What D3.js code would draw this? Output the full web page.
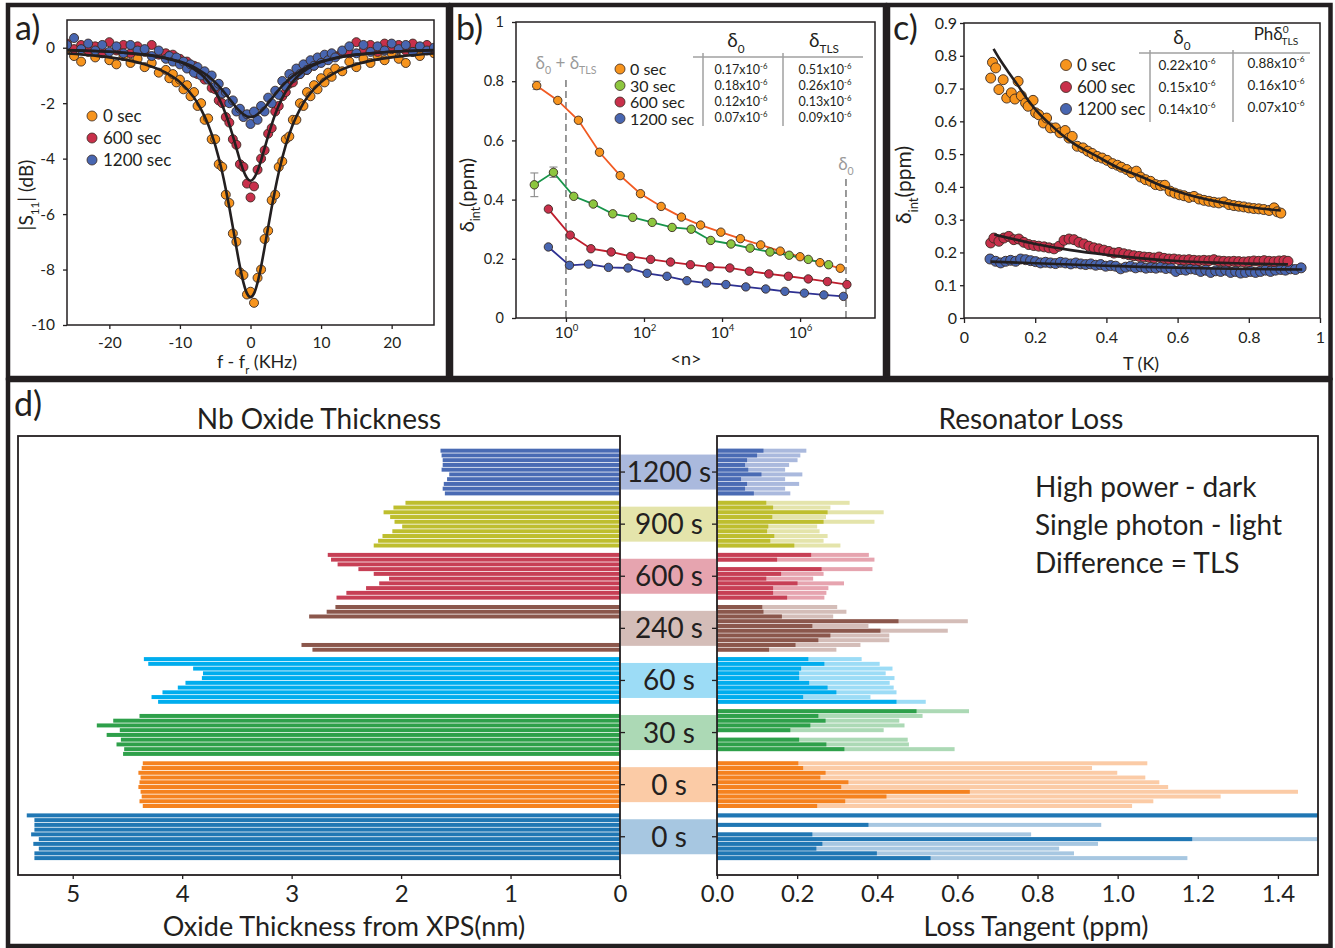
<!DOCTYPE html>
<html><head><meta charset="utf-8">
<script src="https://cdn.jsdelivr.net/npm/d3@7"></script>
<style>
body{margin:0;background:#fff}
text{font-family:Lato,"Open Sans",sans-serif}
</style></head>
<body><svg id="c" width="1335" height="948"></svg>
<script>
// ---------------- Panel a data ----------------
const A_FREQ = [-26,-25,-24,-23,-22,-21,-20,-19,-18,-17,-16,-15,-14,-13,-12,-11.5,-11,-10.5,-10,-9.5,-9,-8.5,-8,-7.5,-7,-6.5,-6,-5.5,-5,-4.5,-4,-3.5,-3,-2.5,-2,-1.5,-1,-0.5,0,0.5,1,1.5,2,2.5,3,3.5,4,4.5,5,5.5,6,6.5,7,7.5,8,8.5,9,9.5,10,10.5,11,11.5,12,13,14,15,16,17,18,19,20,21,22,23,24,25,26];
const A_S11_0 = [-0.05,-0.3,-0.5,-0.15,-0.35,-0.2,-0.45,-0.6,-0.3,-0.55,-0.4,-0.7,-0.55,-0.9,
 -0.8,-1.1,-0.95,-1.25,-1.15,-1.5,-1.35,-1.75,-1.6,-2.1,-2.0,-2.6,-2.55,-3.3,-3.3,-4.2,-4.3,-5.3,-5.6,-6.7,-7.0,-8.1,-8.2,-8.9,
 -8.8,
 -9.2,-8.3,-8.0,-6.9,-6.6,-5.5,-5.3,-4.3,-4.1,-3.3,-3.2,-2.6,-2.6,-2.0,-2.1,-1.6,-1.75,-1.35,-1.5,-1.1,-1.25,-0.9,-1.05,-0.75,
 -0.85,-0.5,-0.7,-0.4,-0.55,-0.3,-0.45,-0.2,-0.4,-0.55,-0.15,-0.3,-0.05,-0.2];
const A_S11_600 = [0.15,-0.05,0.1,-0.1,0.05,-0.15,0.2,-0.1,0.1,-0.2,0.05,-0.15,0.1,-0.25,
 -0.2,-0.3,-0.25,-0.45,-0.4,-0.55,-0.5,-0.75,-0.65,-0.95,-0.9,-1.15,-1.1,-1.45,-1.5,-1.9,-2.0,-2.5,-2.7,-3.3,-3.5,-4.2,-4.3,-4.9,
 -5.4,
 -5.0,-4.4,-4.0,-3.7,-3.1,-2.9,-2.3,-2.1,-1.75,-1.6,-1.3,-1.25,-1.0,-0.95,-0.8,-0.8,-0.6,-0.65,-0.5,-0.45,-0.35,-0.4,-0.25,-0.3,
 -0.15,-0.2,0.2,-0.1,0.1,-0.15,0.15,-0.05,0.1,-0.1,0.15,0.0,0.1,-0.05];
const A_S11_1200 = [0.1,0.35,-0.05,0.15,-0.1,0.1,-0.15,0.05,-0.2,0.1,-0.1,-0.05,-0.3,-0.1,
 -0.4,-0.3,-0.5,-0.35,-0.6,-0.5,-0.75,-0.6,-0.9,-0.7,-1.0,-0.85,-1.15,-1.0,-1.4,-1.3,-1.65,-1.6,-2.0,-1.9,-2.3,-2.2,-2.5,-2.4,
 -2.75,
 -2.3,-2.6,-2.1,-2.3,-1.8,-2.0,-1.55,-1.7,-1.2,-1.4,-0.95,-1.1,-0.75,-0.95,-0.6,-0.8,-0.45,-0.65,-0.35,-0.55,-0.25,-0.45,-0.2,-0.35,
 -0.1,0.05,-0.2,0.1,-0.15,0.05,-0.1,0.15,-0.05,0.1,-0.15,0.05,-0.1,0.0];
const A_FIT_FREQ = [-26,-22,-18,-15,-12,-10,-8,-7,-6,-5,-4,-3.5,-3,-2.5,-2,-1.5,-1,-0.5,0,0.5,1,1.5,2,2.5,3,3.5,4,5,6,7,8,10,12,15,18,22,26];
const A_FIT_0 = [-0.21,-0.29,-0.42,-0.60,-0.90,-1.24,-1.80,-2.22,-2.77,-3.51,-4.50,-5.10,-5.76,-6.47,-7.20,-7.89,-8.47,-8.86,-9.00,-8.86,-8.47,-7.89,-7.20,-6.47,-5.76,-5.10,-4.50,-3.51,-2.77,-2.22,-1.80,-1.24,-0.90,-0.60,-0.42,-0.29,-0.21];
const A_FIT_600 = [-0.085,-0.12,-0.18,-0.25,-0.38,-0.52,-0.77,-0.96,-1.22,-1.58,-2.08,-2.40,-2.77,-3.18,-3.62,-4.06,-4.44,-4.70,-4.80,-4.70,-4.44,-4.06,-3.62,-3.18,-2.77,-2.40,-2.08,-1.58,-1.22,-0.96,-0.77,-0.52,-0.38,-0.25,-0.18,-0.12,-0.085];
const A_FIT_1200 = [-0.09,-0.12,-0.18,-0.25,-0.37,-0.50,-0.70,-0.85,-1.02,-1.25,-1.52,-1.68,-1.84,-2.00,-2.16,-2.29,-2.40,-2.48,-2.50,-2.48,-2.40,-2.29,-2.16,-2.00,-1.84,-1.68,-1.52,-1.25,-1.02,-0.85,-0.70,-0.50,-0.37,-0.25,-0.18,-0.12,-0.09];
const A_YTICKS = [0,-2,-4,-6,-8,-10];
const A_XTICKS = [-20,-10,0,10,20];
const A_LEGEND = ["0 sec","600 sec","1200 sec"];

// ---------------- Panel b data ----------------
const B_LOGN_0 = [-0.75,-0.21,0.32,0.86,1.39,1.91,2.44,2.96,3.45,3.97,4.47,4.99,5.49,6.0,6.51,7.03];
const B_VAL_0 = [0.785,0.735,0.668,0.56,0.481,0.42,0.377,0.341,0.314,0.29,0.268,0.247,0.226,0.207,0.187,0.168];
const B_LOGN_30 = [-0.81,-0.32,0.2,0.7,1.2,1.71,2.21,2.72,3.21,3.71,4.23,4.72,5.23,5.72,6.21,6.73];
const B_VAL_30 = [0.45,0.492,0.411,0.385,0.352,0.34,0.323,0.306,0.30,0.262,0.25,0.236,0.223,0.212,0.198,0.18];
const B_LOGN_600 = [-0.45,0.11,0.64,1.16,1.66,2.17,2.68,3.19,3.69,4.2,4.7,5.2,5.7,6.21,6.7,7.2];
const B_VAL_600 = [0.368,0.28,0.234,0.223,0.208,0.198,0.189,0.18,0.173,0.169,0.158,0.149,0.141,0.132,0.123,0.113];
const B_LOGN_1200 = [-0.45,0.09,0.58,1.09,1.59,2.08,2.59,3.1,3.6,4.1,4.61,5.12,5.61,6.11,6.61,7.11];
const B_VAL_1200 = [0.24,0.178,0.182,0.171,0.169,0.151,0.141,0.126,0.118,0.113,0.105,0.098,0.09,0.084,0.078,0.073];
const B_ERR = [{series:1,i:0,lo:0.41,hi:0.49},{series:1,i:1,lo:0.475,hi:0.51},{series:0,i:0,lo:0.772,hi:0.8}];
const B_YTICKS = [0,0.2,0.4,0.6,0.8,1];
const B_XTICKS = [1,100,1e4,1e6];
const B_LEGEND = ["0 sec","30 sec","600 sec","1200 sec"];
const B_TAB_D0 = ["0.17","0.18","0.12","0.07"];
const B_TAB_DTLS = ["0.51","0.26","0.13","0.09"];
const B_MARK_N = [1, 1.5e7];

// ---------------- Panel c data ----------------
const C_T_0 = [0.075,0.080,0.089,0.098,0.11,0.12,0.133,0.143,0.152,0.161,0.173,0.18,0.194,0.201,0.21,0.223,0.232,0.243,0.257,0.27,0.284,0.295,0.304,0.318,0.334,0.348,0.36,0.374,0.388,0.402,0.417,0.431,0.442,0.457,0.471,0.484,0.496,0.51,0.524,0.538,0.552,0.564,0.579,0.592,0.605,0.618,0.632,0.646,0.66,0.674,0.688,0.702,0.716,0.73,0.744,0.758,0.772,0.786,0.8,0.814,0.828,0.842,0.857,0.871,0.88,0.89];
const C_V_0 = [0.732,0.78,0.763,0.697,0.727,0.671,0.687,0.668,0.722,0.678,0.656,0.646,0.664,0.626,0.62,0.595,0.61,0.58,0.58,0.565,0.572,0.549,0.554,0.524,0.519,0.509,0.502,0.493,0.488,0.481,0.471,0.466,0.46,0.453,0.443,0.448,0.43,0.422,0.417,0.407,0.404,0.405,0.387,0.381,0.376,0.373,0.368,0.371,0.363,0.359,0.356,0.353,0.351,0.354,0.346,0.343,0.341,0.339,0.336,0.334,0.333,0.331,0.328,0.336,0.324,0.32];
const C_T_600 = [0.075,0.084,0.098,0.112,0.126,0.14,0.154,0.168,0.182,0.196,0.21,0.225,0.239,0.253,0.267,0.281,0.295,0.309,0.323,0.337,0.351,0.365,0.379,0.393,0.407,0.421,0.435,0.449,0.463,0.477,0.492,0.506,0.52,0.534,0.548,0.562,0.576,0.59,0.604,0.618,0.632,0.646,0.66,0.674,0.688,0.702,0.716,0.73,0.744,0.758,0.772,0.786,0.8,0.814,0.828,0.843,0.857,0.871,0.885,0.899,0.91];
const C_V_600 = [0.229,0.244,0.234,0.244,0.249,0.239,0.241,0.231,0.224,0.221,0.219,0.217,0.214,0.211,0.219,0.237,0.241,0.239,0.231,0.226,0.219,0.214,0.211,0.207,0.203,0.198,0.2,0.196,0.193,0.19,0.188,0.186,0.185,0.183,0.186,0.182,0.18,0.18,0.178,0.177,0.178,0.176,0.175,0.176,0.175,0.178,0.174,0.173,0.172,0.173,0.172,0.171,0.172,0.174,0.173,0.175,0.173,0.172,0.174,0.175,0.173];
const C_T_1200 = [0.073,0.089,0.103,0.117,0.131,0.145,0.159,0.173,0.187,0.201,0.215,0.229,0.243,0.257,0.271,0.285,0.3,0.314,0.328,0.342,0.356,0.37,0.384,0.398,0.412,0.426,0.44,0.454,0.468,0.482,0.497,0.511,0.525,0.539,0.553,0.567,0.581,0.595,0.609,0.623,0.637,0.651,0.665,0.679,0.693,0.707,0.721,0.735,0.749,0.763,0.777,0.791,0.805,0.819,0.833,0.847,0.861,0.875,0.89,0.903,0.917,0.931,0.947];
const C_V_1200 = [0.18,0.173,0.168,0.173,0.176,0.173,0.18,0.178,0.175,0.172,0.168,0.17,0.168,0.166,0.17,0.168,0.165,0.168,0.165,0.163,0.165,0.161,0.163,0.158,0.16,0.158,0.15,0.155,0.158,0.153,0.156,0.152,0.154,0.152,0.155,0.151,0.152,0.142,0.148,0.146,0.15,0.148,0.142,0.146,0.139,0.144,0.142,0.146,0.139,0.142,0.137,0.139,0.142,0.139,0.142,0.146,0.142,0.146,0.148,0.146,0.15,0.148,0.153];
const C_FIT_T_0 = [0.083,0.1,0.125,0.15,0.175,0.201,0.243,0.299,0.374,0.43,0.5,0.552,0.618,0.712,0.805,0.89];
const C_FIT_V_0 = [0.821,0.79,0.75,0.712,0.672,0.636,0.59,0.539,0.493,0.46,0.43,0.405,0.38,0.355,0.338,0.328];
const C_FIT_T_600 = [0.085,0.2,0.3,0.4,0.5,0.6,0.7,0.8,0.91];
const C_FIT_V_600 = [0.255,0.226,0.207,0.193,0.182,0.174,0.169,0.166,0.164];
const C_FIT_T_1200 = [0.075,0.3,0.5,0.7,0.95];
const C_FIT_V_1200 = [0.172,0.163,0.156,0.151,0.148];
const C_YTICKS = [0,0.1,0.2,0.3,0.4,0.5,0.6,0.7,0.8,0.9];
const C_XTICKS = [0,0.2,0.4,0.6,0.8,1];
const C_LEGEND = ["0 sec","600 sec","1200 sec"];
const C_TAB_D0 = ["0.22","0.15","0.14"];
const C_TAB_PH = ["0.88","0.16","0.07"];

// ---------------- Panel d data ----------------
const D_IDS = ["g1200","g900","g600","g240","g60","g30","g0a","g0b"];
const D_LABELS = ["1200 s","900 s","600 s","240 s","60 s","30 s","0 s","0 s"];
const D_DARK = ["#4a6bb4","#bebe2e","#c73f55","#8b574c","#00adee","#2ea04a","#f5821f","#2077b4"];
const D_LIGHT = ["#aab9dd","#e4e4ab","#e6a4af","#d4bdb8","#9cdcf6","#acd9b5","#fbcba6","#a7c7e1"];
const D_THICK = [
 [1.64,1.63,1.62,1.62,1.63,1.56,1.58,1.61,1.62,1.60],
 [1.96,2.07,2.16,2.10,2.06,1.99,2.08,2.17,2.21,2.25],
 [2.67,2.64,2.58,2.39,2.25,2.11,2.20,2.32,2.50,2.59],
 [2.60,2.68,2.84,null,null,null,null,null,2.91,2.81],
 [4.35,4.31,3.90,3.81,3.82,3.97,4.04,4.18,4.28,4.22],
 [null,4.39,4.63,4.78,4.57,4.69,4.56,4.60,4.53,4.54],
 [4.36,4.37,4.40,4.38,4.39,4.40,4.38,4.37,4.39,4.36],
 [5.42,5.35,5.35,5.35,5.38,5.31,5.36,5.31,5.35,5.35]];
const D_LOSS_HIGH = [
 [0.116,0.100,0.075,0.070,0.078,0.111,0.060,0.075,0.070,0.092],
 [0.123,0.140,0.276,0.138,0.266,0.128,0.125,0.143,0.133,0.193],
 [0.235,0.150,null,0.261,0.160,0.123,0.201,0.140,0.140,0.175],
 [0.113,0.116,0.162,0.453,0.238,0.408,0.283,0.253,0.196,0.130],
 [0.228,0.268,0.210,0.205,0.205,0.230,0.276,0.298,0.215,0.448],
 [0.498,0.253,0.271,0.233,0.183,null,0.205,0.273,0.318,null],
 [0.203,0.215,0.271,0.258,0.328,0.310,0.631,0.423,0.320,0.250],
 [1.60,null,0.378,null,0.238,1.186,0.263,0.248,0.399,0.533]];
const D_LOSS_SINGLE = [
 [0.223,0.208,0.201,0.180,0.170,0.213,0.170,0.205,0.170,0.183],
 [0.331,0.283,0.416,0.272,0.393,0.250,0.256,0.276,0.266,0.308],
 [0.379,0.393,null,0.388,0.266,0.240,0.317,0.278,0.273,0.268],
 [0.300,0.323,0.290,0.626,0.378,0.576,0.430,0.430,0.358,0.298],
 [0.361,0.406,0.438,0.421,0.443,0.431,0.441,0.448,0.383,0.521],
 [0.629,0.513,0.455,0.468,0.416,null,0.476,0.479,0.593,null],
 [1.074,0.936,0.999,1.069,1.104,1.126,1.450,1.257,1.089,1.036],
 [1.60,null,0.959,null,0.784,1.60,0.951,0.854,0.891,1.174]];
const D_XTICKS_L = [5,4,3,2,1,0];
const D_XTICKS_R = [0,0.2,0.4,0.6,0.8,1.0,1.2,1.4];
const D_LEGEND = ["High power - dark","Single photon - light","Difference = TLS"];

// ---------------- helpers ----------------
const INK = "#231f20";
const svg = d3.select("#c");
const defs = svg.append("defs");
function clip(id,x,y,w,h){defs.append("clipPath").attr("id",id).append("rect").attr("x",x).attr("y",y).attr("width",w).attr("height",h);}
function frame(x0,y0,x1,y1,sw){svg.append("rect").attr("x",x0).attr("y",y0).attr("width",x1-x0).attr("height",y1-y0).attr("fill","none").attr("stroke",INK).attr("stroke-width",sw);}
function rich(parent,x,y,parts,size,anchor,fill){
  const t = parent.append("text").attr("x",x).attr("y",y).attr("text-anchor",anchor||"start")
    .style("font-size",size+"px").attr("fill",fill||INK);
  let off = 0;
  parts.forEach(p=>{
    const target = p.sub ? size*0.32 : (p.sup ? -size*0.42 : 0);
    const s = t.append("tspan").text(p.t).attr("dy",target-off);
    if(p.dx) s.attr("dx",p.dx);
    if(p.sub||p.sup) s.style("font-size",(size*(p.small||0.62))+"px");
    off = target;
  });
  return t;
}
function styleAxis(g,fs){
  g.select(".domain").remove();
  g.selectAll(".tick line").attr("stroke",INK).attr("stroke-width",1.3);
  g.selectAll(".tick text").attr("fill",INK).style("font-size",fs+"px").style("font-family","Lato");
}
function dots(g,xs,ys,xf,yf,fill,r){
  g.selectAll(null).data(xs.map((x,i)=>[x,ys[i]])).join("circle")
    .attr("cx",d=>xf(d[0])).attr("cy",d=>yf(d[1])).attr("r",r)
    .attr("fill",fill).attr("stroke","#3a2a22").attr("stroke-width",0.9);
}

// ---------------- frames ----------------
frame(8,5,448,378,4.5);
frame(451,5,885,378,4.5);
frame(888,5,1330.5,378,4.5);
frame(8,380,1330.5,946,4.5);

// ================= Panel a =================
{
  const xA = d3.scaleLinear([-26,26],[67,434]);
  const yA = d3.scaleLinear([-10,1],[325,20]);
  clip("clipA",67,20,367,305);
  const colors = ["#f7941d","#c8304b","#4866b1"];
  const g = svg.append("g").attr("clip-path","url(#clipA)");
  [A_S11_0,A_S11_600,A_S11_1200].forEach((s,k)=>dots(g,A_FREQ,s,xA,yA,colors[k],4.5));
  const line = d3.line().x((d,i)=>xA(A_FIT_FREQ[i])).y(d=>yA(d)).curve(d3.curveMonotoneX);
  [A_FIT_0,A_FIT_600,A_FIT_1200].forEach(s=>g.append("path").attr("d",line(s)).attr("fill","none").attr("stroke",INK).attr("stroke-width",2.6));
  svg.append("rect").attr("x",67).attr("y",20).attr("width",367).attr("height",305).attr("fill","none").attr("stroke",INK).attr("stroke-width",1.5);
  const ay = svg.append("g").attr("transform","translate(67,0)").call(d3.axisLeft(yA).tickValues(A_YTICKS).tickSize(4).tickPadding(8).tickFormat(d=>String(d)));
  styleAxis(ay,15.5);
  const ax = svg.append("g").attr("transform","translate(0,325)").call(d3.axisBottom(xA).tickValues(A_XTICKS).tickSize(4).tickPadding(8).tickFormat(d=>String(d)));
  styleAxis(ax,15.5);
  const yl = svg.append("g").attr("transform","translate(33,195) rotate(-90)");
  rich(yl,0,0,[{t:"|S"},{t:"11",sub:true},{t:"| (dB)"}],19,"middle");
  rich(svg,257,368,[{t:"f - f"},{t:"r",sub:true},{t:" (KHz)"}],18,"middle");
  A_LEGEND.forEach((l,i)=>{
    svg.append("circle").attr("cx",92).attr("cy",116+i*22).attr("r",5).attr("fill",colors[i]).attr("stroke","#3a2a22").attr("stroke-width",0.8);
    svg.append("text").attr("x",103).attr("y",122+i*22).text(l).style("font-size","17px").attr("fill",INK);
  });
  svg.append("text").attr("x",15).attr("y",40).text("a)").style("font-size","34px").attr("fill",INK);
}

// ================= Panel b =================
{
  const xB = d3.scaleLog([Math.pow(10,-1.28),Math.pow(10,7.92)],[516,875]);
  const yB = d3.scaleLinear([0,1],[318,22]);
  const gray = "#8f8f8f";
  svg.append("line").attr("x1",xB(B_MARK_N[0])).attr("x2",xB(B_MARK_N[0])).attr("y1",318).attr("y2",77)
    .attr("stroke",gray).attr("stroke-width",1.8).attr("stroke-dasharray","7,4");
  svg.append("line").attr("x1",xB(B_MARK_N[1])).attr("x2",xB(B_MARK_N[1])).attr("y1",318).attr("y2",178)
    .attr("stroke",gray).attr("stroke-width",1.8).attr("stroke-dasharray","7,4");
  rich(svg,566,69,[{t:"δ"},{t:"0",sub:true},{t:" + δ"},{t:"TLS",sub:true}],17,"middle","#9a9a9a");
  rich(svg,xB(B_MARK_N[1]),170,[{t:"δ"},{t:"0",sub:true}],17,"middle","#9a9a9a");
  const lineCols = ["#f15a22","#18954a","#be1e2d","#2e3192"];
  const fillCols = ["#f7941d","#8dc63f","#c8304b","#4866b1"];
  const LOGS = [B_LOGN_0,B_LOGN_30,B_LOGN_600,B_LOGN_1200];
  const VALS = [B_VAL_0,B_VAL_30,B_VAL_600,B_VAL_1200];
  B_ERR.forEach(e=>{
    const x = xB(Math.pow(10,LOGS[e.series][e.i]));
    const gg = svg.append("g").attr("stroke","#8a8a8a").attr("stroke-width",1.1);
    gg.append("line").attr("x1",x).attr("x2",x).attr("y1",yB(e.lo)).attr("y2",yB(e.hi));
    gg.append("line").attr("x1",x-4).attr("x2",x+4).attr("y1",yB(e.lo)).attr("y2",yB(e.lo));
    gg.append("line").attr("x1",x-4).attr("x2",x+4).attr("y1",yB(e.hi)).attr("y2",yB(e.hi));
  });
  LOGS.forEach((lg,k)=>{
    const line = d3.line().x((d,i)=>xB(Math.pow(10,lg[i]))).y(d=>yB(d));
    svg.append("path").attr("d",line(VALS[k])).attr("fill","none").attr("stroke",lineCols[k]).attr("stroke-width",1.8);
  });
  LOGS.forEach((lg,k)=>{
    dots(svg.append("g"),lg.map(v=>Math.pow(10,v)),VALS[k],xB,yB,fillCols[k],4.2);
  });
  svg.append("rect").attr("x",516).attr("y",22).attr("width",359).attr("height",296).attr("fill","none").attr("stroke",INK).attr("stroke-width",1.5);
  const ay = svg.append("g").attr("transform","translate(516,0)").call(d3.axisLeft(yB).tickValues(B_YTICKS).tickSize(4).tickPadding(8).tickFormat(d=>String(d)));
  styleAxis(ay,14.5);
  const ax = svg.append("g").attr("transform","translate(0,318)").call(d3.axisBottom(xB).tickValues(B_XTICKS).tickSize(4).tickFormat(""));
  styleAxis(ax,14.5);
  ax.selectAll(".tick").each(function(d){
    rich(d3.select(this),0,20,[{t:"10"},{t:String(Math.round(Math.log10(d))),sup:true}],15.5,"middle");
  });
  const yl = svg.append("g").attr("transform","translate(474,195) rotate(-90)");
  rich(yl,0,0,[{t:"δ"},{t:"int",sub:true},{t:"(ppm)"}],20,"middle");
  svg.append("text").attr("x",686).attr("y",365).attr("text-anchor","middle").text("<n>").style("font-size","18px").attr("fill",INK);
  B_LEGEND.forEach((l,i)=>{
    svg.append("circle").attr("cx",620).attr("cy",69+i*16.5).attr("r",5).attr("fill",fillCols[i]).attr("stroke","#3a2a22").attr("stroke-width",0.8);
    svg.append("text").attr("x",630).attr("y",75+i*16.5).text(l).style("font-size","16px").attr("fill",INK);
  });
  const tg = "#a0a0a0";
  svg.append("line").attr("x1",693).attr("x2",863).attr("y1",57).attr("y2",57).attr("stroke",tg).attr("stroke-width",1.5);
  [703,783].forEach(x=>svg.append("line").attr("x1",x).attr("x2",x).attr("y1",53).attr("y2",126).attr("stroke",tg).attr("stroke-width",1.5));
  rich(svg,736,47,[{t:"δ"},{t:"0",sub:true}],19,"middle");
  rich(svg,824,47,[{t:"δ"},{t:"TLS",sub:true}],19,"middle");
  B_TAB_D0.forEach((v,i)=>rich(svg,741,74+i*16,[{t:v+"x10"},{t:"-6",sup:true}],12.5,"middle"));
  B_TAB_DTLS.forEach((v,i)=>rich(svg,825,74+i*16,[{t:v+"x10"},{t:"-6",sup:true}],12.5,"middle"));
  svg.append("text").attr("x",456).attr("y",40).text("b)").style("font-size","34px").attr("fill",INK);
}

// ================= Panel c =================
{
  const xC = d3.scaleLinear([0,1],[964,1320]);
  const yC = d3.scaleLinear([0,0.9],[318,23]);
  clip("clipC",964,23,356,295);
  const colors = ["#f7941d","#c8304b","#4866b1"];
  const g = svg.append("g").attr("clip-path","url(#clipC)");
  dots(g,C_T_1200,C_V_1200,xC,yC,colors[2],5);
  dots(g,C_T_600,C_V_600,xC,yC,colors[1],5);
  dots(g,C_T_0,C_V_0,xC,yC,colors[0],5);
  [[C_FIT_T_0,C_FIT_V_0],[C_FIT_T_600,C_FIT_V_600],[C_FIT_T_1200,C_FIT_V_1200]].forEach(([ts,vs])=>{
    const line = d3.line().x((d,i)=>xC(ts[i])).y(d=>yC(d)).curve(d3.curveMonotoneX);
    g.append("path").attr("d",line(vs)).attr("fill","none").attr("stroke",INK).attr("stroke-width",2.6);
  });
  svg.append("rect").attr("x",964).attr("y",23).attr("width",356).attr("height",295).attr("fill","none").attr("stroke",INK).attr("stroke-width",1.5);
  const ay = svg.append("g").attr("transform","translate(964,0)").call(d3.axisLeft(yC).tickValues(C_YTICKS).tickSize(4).tickPadding(3).tickFormat(d=>String(d)));
  styleAxis(ay,16);
  const ax = svg.append("g").attr("transform","translate(0,318)").call(d3.axisBottom(xC).tickValues(C_XTICKS).tickSize(5).tickPadding(9).tickFormat(d=>String(d)));
  styleAxis(ax,16);
  const yl = svg.append("g").attr("transform","translate(911,185) rotate(-90)");
  rich(yl,0,0,[{t:"δ"},{t:"int",sub:true},{t:"(ppm)"}],21,"middle");
  svg.append("text").attr("x",1141).attr("y",370).attr("text-anchor","middle").text("T (K)").style("font-size","18px").attr("fill",INK);
  C_LEGEND.forEach((l,i)=>{
    svg.append("circle").attr("cx",1066).attr("cy",65+i*22).attr("r",5.5).attr("fill",colors[i]).attr("stroke","#3a2a22").attr("stroke-width",0.8);
    svg.append("text").attr("x",1077).attr("y",71+i*22).text(l).style("font-size","17px").attr("fill",INK);
  });
  const tg = "#a0a0a0";
  svg.append("line").attr("x1",1139).attr("x2",1310).attr("y1",53).attr("y2",53).attr("stroke",tg).attr("stroke-width",1.5);
  [1150,1233].forEach(x=>svg.append("line").attr("x1",x).attr("x2",x).attr("y1",50).attr("y2",122).attr("stroke",tg).attr("stroke-width",1.5));
  rich(svg,1182,44,[{t:"δ"},{t:"0",sub:true}],19,"middle");
  rich(svg,1276,40,[{t:"Phδ"},{t:"0",sup:true,small:0.6},{t:"TLS",sub:true,small:0.6,dx:-7}],17,"middle");
  C_TAB_D0.forEach((v,i)=>rich(svg,1187,70+i*22,[{t:v+"x10"},{t:"-6",sup:true}],13.5,"middle"));
  C_TAB_PH.forEach((v,i)=>rich(svg,1276,68+i*22,[{t:v+"x10"},{t:"-6",sup:true}],13.5,"middle"));
  svg.append("text").attr("x",893).attr("y",40).text("c)").style("font-size","34px").attr("fill",INK);
}

// ================= Panel d =================
{
  const xL = d3.scaleLinear([5.5,0],[18,620]);
  const xR = d3.scaleLinear([0,1.5],[717,1318]);
  const yG = d3.scaleBand(D_IDS,[446,862.8]);
  const ySlot = d3.scaleBand(d3.range(10),[2.7,yG.bandwidth()-2.7]).paddingInner(0.16);
  clip("clipDR",717,436,601,439);
  const gL = svg.append("g");
  const gR = svg.append("g").attr("clip-path","url(#clipDR)");
  D_IDS.forEach((id,k)=>{
    const y0 = yG(id);
    D_THICK[k].forEach((t,i)=>{
      if(t==null) return;
      gL.append("rect").attr("x",xL(t)).attr("y",y0+ySlot(i)).attr("width",xL(0)-xL(t)).attr("height",ySlot.bandwidth()).attr("fill",D_DARK[k]);
    });
    D_LOSS_SINGLE[k].forEach((v,i)=>{
      if(v==null) return;
      gR.append("rect").attr("x",xR(0)).attr("y",y0+ySlot(i)).attr("width",xR(v)-xR(0)).attr("height",ySlot.bandwidth()).attr("fill",D_LIGHT[k]);
    });
    D_LOSS_HIGH[k].forEach((v,i)=>{
      if(v==null) return;
      gR.append("rect").attr("x",xR(0)).attr("y",y0+ySlot(i)).attr("width",xR(v)-xR(0)).attr("height",ySlot.bandwidth()).attr("fill",D_DARK[k]);
    });
    const cy = y0+yG.bandwidth()/2;
    svg.append("rect").attr("x",621).attr("y",cy-17.5).attr("width",95).attr("height",35).attr("fill",D_LIGHT[k]);
    svg.append("text").attr("x",669).attr("y",cy+10).attr("text-anchor","middle").text(D_LABELS[k]).style("font-size","28px").attr("fill",INK);
  });
  svg.append("rect").attr("x",18).attr("y",436).attr("width",602).attr("height",439).attr("fill","none").attr("stroke",INK).attr("stroke-width",1.8);
  svg.append("rect").attr("x",717).attr("y",436).attr("width",601).attr("height",439).attr("fill","none").attr("stroke",INK).attr("stroke-width",1.8);
  const t1 = svg.append("g").attr("transform","translate(620,0)").call(d3.axisRight(yG).tickSize(5).tickFormat(""));
  styleAxis(t1,10);
  const t2 = svg.append("g").attr("transform","translate(717,0)").call(d3.axisLeft(yG).tickSize(5).tickFormat(""));
  styleAxis(t2,10);
  const axL = svg.append("g").attr("transform","translate(0,875)").call(d3.axisBottom(xL).tickValues(D_XTICKS_L).tickSize(4).tickPadding(6).tickFormat(d=>String(d)));
  styleAxis(axL,24);
  const axR = svg.append("g").attr("transform","translate(0,875)").call(d3.axisBottom(xR).tickValues(D_XTICKS_R).tickSize(4).tickPadding(6).tickFormat(d3.format(".1f")));
  styleAxis(axR,24);
  svg.append("text").attr("x",344).attr("y",936).attr("text-anchor","middle").text("Oxide Thickness from XPS(nm)").style("font-size","27px").attr("fill",INK);
  svg.append("text").attr("x",1036).attr("y",936).attr("text-anchor","middle").text("Loss Tangent (ppm)").style("font-size","27px").attr("fill",INK);
  svg.append("text").attr("x",319).attr("y",429).attr("text-anchor","middle").text("Nb Oxide Thickness").style("font-size","28px").attr("fill",INK);
  svg.append("text").attr("x",1031).attr("y",429).attr("text-anchor","middle").text("Resonator Loss").style("font-size","28px").attr("fill",INK);
  D_LEGEND.forEach((l,i)=>svg.append("text").attr("x",1035).attr("y",497+i*38).text(l).style("font-size","28px").attr("fill",INK));
  svg.append("text").attr("x",14).attr("y",416).text("d)").style("font-size","34px").attr("fill",INK);
}
</script></body></html>
